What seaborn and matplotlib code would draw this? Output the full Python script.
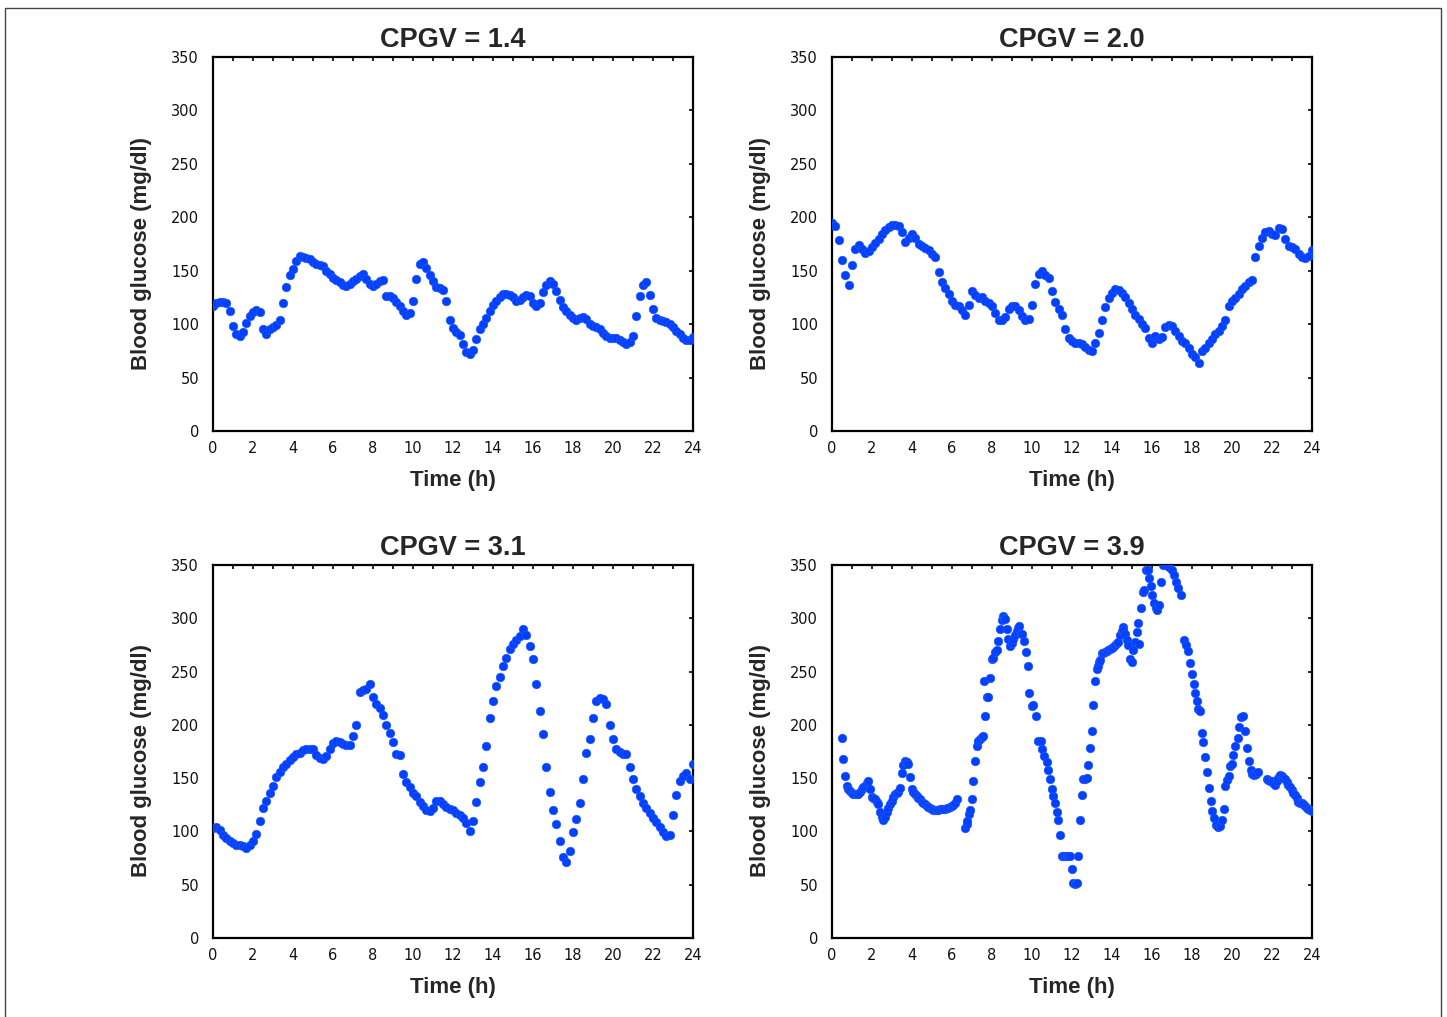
import numpy as np
import pandas as pd
import matplotlib
matplotlib.use("Agg")
import matplotlib.pyplot as plt
from matplotlib.patches import Rectangle
from matplotlib.ticker import MultipleLocator
import seaborn as sns

# ---------------- data ----------------
TITLES = ["CPGV = 1.4", "CPGV = 2.0", "CPGV = 3.1", "CPGV = 3.9"]
X_TICKS = [0, 2, 4, 6, 8, 10, 12, 14, 16, 18, 20, 22, 24]
Y_TICKS = [0, 50, 100, 150, 200, 250, 300, 350]

# panels 1-3: one reading every 10 minutes from 0 h to 24 h
SAMPLE_STEP_H = 1 / 6

glucose_cpgv_14 = [
    117, 120, 121, 121, 120, 112, 98, 91, 89, 93, 101, 108,
    111, 113, 111, 95, 91, 95, 97, 99, 104, 120, 135, 146,
    152, 159, 164, 163, 162, 161, 158, 156, 155, 154, 150, 147,
    143, 141, 139, 137, 136, 138, 140, 142, 145, 147, 142, 138,
    136, 138, 140, 141, 126, 126, 124, 121, 117, 112, 109, 110,
    122, 142, 156, 158, 153, 146, 140, 135, 134, 132, 122, 104,
    96, 93, 90, 81, 74, 72, 76, 86, 95, 100, 106, 112,
    118, 122, 125, 128, 128, 127, 125, 122, 123, 125, 127, 126,
    120, 117, 120, 130, 137, 140, 138, 131, 123, 116, 112, 109,
    106, 104, 106, 107, 105, 100, 98, 97, 95, 92, 89, 87,
    87, 87, 85, 83, 81, 83, 89, 108, 126, 137, 139, 127,
    114, 106, 104, 103, 102, 100, 97, 94, 91, 87, 85, 85,
    88,
]

glucose_cpgv_20 = [
    195, 192, 179, 160, 146, 137, 155, 170, 174, 170, 167, 168,
    172, 176, 180, 184, 188, 191, 193, 193, 192, 186, 177, 181,
    184, 181, 175, 173, 171, 169, 166, 163, 149, 139, 134, 128,
    122, 118, 117, 113, 109, 118, 131, 127, 124, 125, 122, 120,
    117, 110, 104, 104, 107, 114, 117, 117, 113, 108, 104, 105,
    118, 138, 147, 150, 146, 143, 131, 121, 114, 109, 95, 87,
    84, 82, 82, 81, 79, 76, 75, 82, 92, 104, 116, 124,
    129, 133, 132, 129, 125, 120, 114, 109, 105, 100, 96, 87,
    82, 89, 86, 88, 97, 99, 98, 94, 89, 84, 82, 78,
    72, 69, 64, 75, 78, 82, 86, 91, 94, 98, 104, 117,
    122, 124, 128, 133, 136, 139, 141, 163, 173, 181, 186, 187,
    184, 183, 190, 189, 180, 173, 172, 170, 166, 163, 162, 164,
    169,
]

glucose_cpgv_31 = [
    103, 104, 101, 97, 94, 91, 89, 87, 87, 86, 84, 87,
    91, 98, 110, 122, 129, 136, 143, 151, 156, 160, 163, 167,
    170, 173, 174, 176, 177, 177, 177, 172, 169, 168, 171, 177,
    183, 185, 184, 182, 181, 181, 190, 200, 231, 233, 234, 238,
    226, 220, 216, 209, 200, 192, 184, 173, 172, 154, 146, 142,
    136, 133, 128, 124, 120, 119, 122, 129, 129, 126, 123, 121,
    120, 117, 115, 113, 108, 100, 110, 128, 146, 160, 180, 206,
    222, 236, 245, 255, 263, 271, 276, 280, 283, 290, 284, 274,
    262, 238, 213, 191, 160, 137, 120, 107, 91, 76, 71, 82,
    99, 112, 127, 149, 174, 187, 206, 222, 225, 224, 220, 200,
    187, 177, 175, 173, 173, 160, 149, 140, 133, 127, 122, 117,
    113, 109, 104, 99, 96, 97, 115, 134, 147, 152, 155, 149,
    163,
]

time_cpgv_39 = [
    0.48, 0.57, 0.65, 0.73, 0.82, 0.90, 0.98, 1.07, 1.15, 1.23, 1.32, 1.40,
    1.48, 1.57, 1.65, 1.73, 1.82, 1.90, 1.98, 2.07, 2.15, 2.23, 2.32, 2.40,
    2.48, 2.57, 2.65, 2.73, 2.82, 2.90, 2.98, 3.07, 3.15, 3.23, 3.32, 3.40,
    3.48, 3.57, 3.65, 3.73, 3.82, 3.90, 3.98, 4.07, 4.15, 4.23, 4.32, 4.40,
    4.48, 4.57, 4.65, 4.73, 4.82, 4.90, 4.98, 5.07, 5.15, 5.23, 5.32, 5.40,
    5.48, 5.57, 5.65, 5.73, 5.82, 5.90, 5.98, 6.07, 6.15, 6.23,
    6.65, 6.73, 6.77, 6.85, 6.90, 6.98, 7.07, 7.15, 7.23, 7.32, 7.40, 7.48,
    7.57, 7.62, 7.65, 7.73, 7.82, 7.90, 7.98, 8.07, 8.15, 8.23, 8.32, 8.40,
    8.48, 8.53, 8.60, 8.65, 8.73, 8.82, 8.90, 8.98, 9.07, 9.15, 9.23, 9.30,
    9.37, 9.48, 9.60, 9.70, 9.82, 9.87, 9.98, 10.07, 10.20, 10.32, 10.43, 10.48,
    10.60, 10.73, 10.82, 10.90, 10.98, 11.07, 11.15, 11.23, 11.32, 11.40,
    11.48, 11.57, 11.65, 11.73, 11.82, 11.90, 11.98, 12.07, 12.15, 12.23, 12.32, 12.40,
    12.48, 12.57, 12.65, 12.73, 12.82, 12.90, 12.98, 13.07, 13.15, 13.23, 13.28, 13.35,
    13.40, 13.48, 13.57, 13.65, 13.73, 13.82, 13.90, 13.98, 14.07, 14.15, 14.23, 14.32,
    14.40, 14.48, 14.53, 14.57, 14.65, 14.73, 14.82, 14.90, 14.98, 15.07, 15.15, 15.23,
    15.32, 15.37, 15.45, 15.53, 15.60, 15.70, 15.78, 15.85, 15.93, 16.02, 16.12, 16.20,
    16.27, 16.35, 16.45, 16.55, 16.65, 16.85, 17.00, 17.10, 17.20, 17.30, 17.43,
    17.60, 17.70, 17.80, 17.90, 18.00, 18.08, 18.15, 18.23, 18.32, 18.40, 18.48, 18.57,
    18.65, 18.75, 18.85, 18.93, 19.02, 19.12, 19.22, 19.32, 19.40, 19.50, 19.58, 19.65,
    19.75, 19.85, 19.92, 20.00, 20.07, 20.17, 20.28, 20.37, 20.45, 20.55, 20.65, 20.73,
    20.83, 20.93, 21.02, 21.10, 21.20, 21.30,
    21.73, 21.82, 21.90, 21.98, 22.07, 22.15, 22.23, 22.32, 22.40, 22.48, 22.57, 22.65,
    22.73, 22.82, 22.90, 22.98, 23.07, 23.15, 23.23, 23.32, 23.40, 23.48, 23.57, 23.65,
    23.73, 23.82, 23.90, 23.98,
]
glucose_cpgv_39 = [
    188, 168, 152, 143, 140, 138, 136, 135, 135, 135, 135, 137,
    140, 142, 143, 145, 147, 140, 132, 131, 130, 128, 126, 118,
    114, 111, 114, 118, 122, 126, 129, 132, 135, 136, 137, 141,
    155, 162, 166, 165, 163, 151, 140, 137, 135, 133, 131, 130,
    128, 127, 126, 124, 123, 122, 121, 120, 120, 120, 120, 121,
    121, 121, 121, 122, 122, 123, 124, 125, 127, 130,
    103, 107, 110, 116, 120, 130, 147, 166, 180, 185, 187, 189,
    190, 241, 208, 226, 226, 244, 262, 263, 268, 270, 279, 290,
    298, 302, 300, 299, 290, 281, 274, 277, 281, 284, 288, 291,
    293, 285, 279, 268, 255, 230, 218, 219, 208, 185, 185, 177,
    171, 165, 158, 149, 140, 133, 127, 118, 111, 97,
    77, 77, 77, 77, 77, 77, 65, 52, 51, 52, 77, 111,
    134, 149, 149, 150, 162, 178, 194, 219, 241, 252, 255, 259,
    261, 267, 267, 268, 269, 270, 271, 272, 273, 275, 277, 278,
    284, 288, 292, 289, 285, 280, 275, 262, 259, 270, 278, 287,
    296, 276, 310, 325, 327, 345, 345, 338, 330, 322, 314, 310,
    308, 312, 334, 350, 350, 348, 345, 341, 334, 328, 322,
    280, 275, 269, 258, 248, 238, 230, 222, 215, 213, 192, 184,
    170, 156, 141, 129, 119, 113, 106, 104, 105, 111, 121, 143,
    148, 152, 161, 163, 172, 180, 188, 198, 207, 208, 194, 178,
    166, 158, 154, 153, 154, 156,
    149, 148, 147, 147, 145, 144, 147, 150, 153, 152, 150, 149,
    146, 144, 142, 139, 136, 134, 131, 128, 127, 127, 126, 124,
    122, 121, 120, 119,
]

# ---------------- build tidy tables ----------------
def grid_frame(values):
    t = np.arange(len(values)) * SAMPLE_STEP_H
    return pd.DataFrame({"time": t, "glucose": values})

n4 = min(len(time_cpgv_39), len(glucose_cpgv_39))
frames = [
    grid_frame(glucose_cpgv_14),
    grid_frame(glucose_cpgv_20),
    grid_frame(glucose_cpgv_31),
    pd.DataFrame({"time": time_cpgv_39[:n4], "glucose": glucose_cpgv_39[:n4]}),
]

# ---------------- style ----------------
sns.set_style("white")
plt.rcParams["font.family"] = ["Liberation Sans", "DejaVu Sans"]

BLUE = "#0440ff"
W, H = 1447, 1017
fig = plt.figure(figsize=(W / 100, H / 100), dpi=100)

# axes rectangles in pixels: (left, top, right, bottom)
boxes = [
    (213, 57, 693, 431),
    (832, 57, 1312, 431),
    (213, 565, 693, 938),
    (832, 565, 1312, 938),
]

for (l, t, r, b), df, title in zip(boxes, frames, TITLES):
    ax = fig.add_axes([l / W, 1 - b / H, (r - l) / W, (b - t) / H])
    sns.scatterplot(data=df, x="time", y="glucose", ax=ax, color=BLUE,
                    s=40, linewidth=0.3, edgecolor="#2a62ff", legend=False,
                    zorder=3)
    ax.set_xlim(0, 24)
    ax.set_ylim(0, 350)
    ax.set_xticks(X_TICKS)
    ax.xaxis.set_minor_locator(MultipleLocator(1))
    ax.set_yticks(Y_TICKS)
    ax.set_xticklabels([str(v) for v in X_TICKS], family="DejaVu Sans")
    ax.set_yticklabels([str(v) for v in Y_TICKS], family="DejaVu Sans")
    ax.tick_params(which="both", direction="in", top=True, right=True,
                   length=3, width=1.2, color="black")
    ax.tick_params(which="major", labelsize=10.5, labelcolor="#111111")
    ax.tick_params(axis="y", which="major", pad=10)
    ax.tick_params(axis="x", which="major", pad=7)
    for sp in ax.spines.values():
        sp.set_visible(True)
        sp.set_linewidth(1.6)
        sp.set_color("black")
    ax.set_title(title, fontsize=19.5, fontweight="bold", pad=7)
    ax.set_xlabel("Time (h)", fontsize=16, fontweight="bold")
    ax.set_ylabel("Blood glucose (mg/dl)", fontsize=16, fontweight="bold")
    ax.xaxis.set_label_coords(0.5, -0.105)
    ax.yaxis.set_label_coords(-0.128, 0.475)

# thin frame around the figure
fig.add_artist(Rectangle((4.5 / W, -0.02), (1441 - 4.5) / W, 1.02 - 7.5 / H,
                         transform=fig.transFigure, fill=False,
                         edgecolor="#444444", linewidth=1.0))

fig.savefig("out.png", dpi=100, facecolor="white")
